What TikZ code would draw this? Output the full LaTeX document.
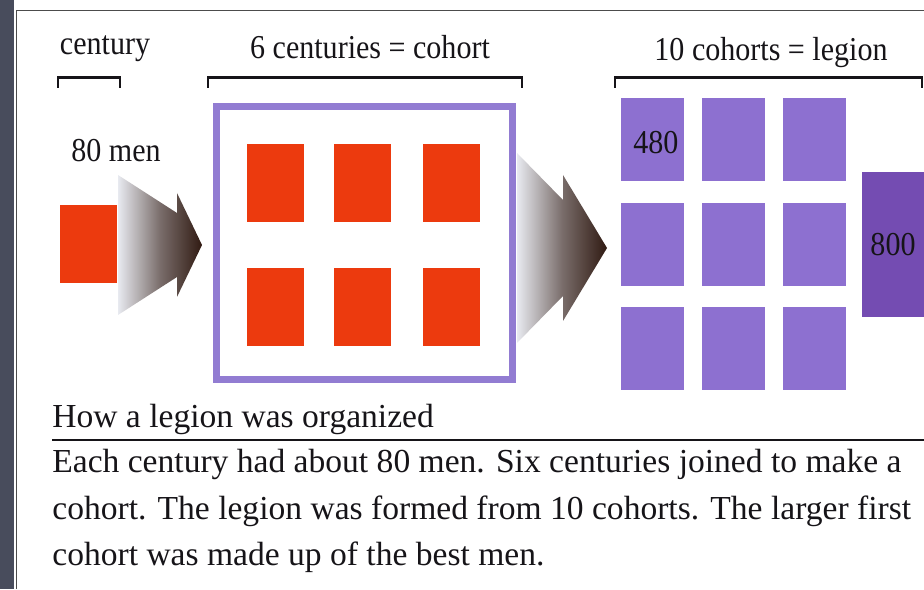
\documentclass[tikz,border=0pt]{standalone}
\usepackage{fontspec}
\setmainfont{Liberation Serif}
\newfontfamily\labelfont[FakeStretch=0.9]{Liberation Serif}
\usepackage{xcolor}
\definecolor{legred}{RGB}{236,58,14}
\definecolor{framepurple}{RGB}{146,124,210}
\definecolor{cohortpurple}{RGB}{141,112,208}
\definecolor{firstpurple}{RGB}{116,76,178}
\definecolor{stripgray}{RGB}{72,76,92}
\definecolor{arrowlight}{RGB}{232,234,240}
\definecolor{arrowdark}{RGB}{48,26,18}
\definecolor{inkblack}{RGB}{22,20,24}
\usetikzlibrary{positioning}

\begin{document}
\begin{tikzpicture}[every node/.style={inner sep=0pt,text=inkblack},
    lbl/.style={font=\labelfont\fontsize{19}{22}\selectfont},
    body/.style={font=\fontsize{19.1}{22}\selectfont,anchor=base west},
    bracket/.style={draw=inkblack,line width=1.6pt},
    centbox/.style={fill=legred,minimum width=1.14cm,minimum height=1.56cm},
    cohbox/.style={fill=cohortpurple,minimum width=1.26cm,minimum height=1.66cm},
    arrowshade/.style={left color=arrowlight,right color=arrowdark,middle color=arrowdark!60!arrowlight}]
  \useasboundingbox (0,0) rectangle (18.48,11.78);

  %% Slide strip and page frame
  \fill[stripgray] (0,0) rectangle (0.28,11.78);
  \draw[gray!60!black,line width=0.7pt] (0.33,0) -- (0.33,11.57) -- (18.48,11.57);

  %% Headings and brackets
  \node[lbl,anchor=base] (lcent) at (2.10,10.68) {century};
  \node[lbl,anchor=base] (lcoh) at (7.40,10.60) {6 centuries = cohort};
  \node[lbl,anchor=base] (lleg) at (15.42,10.56) {10 cohorts = legion};
  \foreach \a/\b in {1.16/2.40, 4.16/10.44, 12.30/18.44}{
    \draw[bracket] (\a,10.02) -- (\a,10.23) -- (\b,10.23) -- (\b,10.02);
  }

  %% One century
  \node[lbl,anchor=base] (men) at (2.32,8.54) {80 men};
  \node[centbox] (cent) at (1.77,6.90) {};
  \shade[arrowshade] (2.36,6.88+1.40) -- (3.54,6.88+0.64) -- (3.54,6.88+1.04)
        -- (4.04,6.88) -- (3.54,6.88-1.04) -- (3.54,6.88-0.64)
        -- (2.36,6.88-1.40) -- cycle;

  %% Cohort of six centuries
  \node[draw=framepurple,line width=4pt,minimum width=5.92cm,minimum height=5.46cm]
        (cohort) at (7.29,6.92) {};
  \foreach \x/\y/\n in {5.50/8.11/1, 7.24/8.11/2, 9.02/8.11/3,
                        5.50/5.64/4, 7.24/5.64/5, 9.02/5.64/6}{
    \node[centbox] (c\n) at (\x,\y) {};
  }
  \shade[arrowshade] (10.34,6.82+1.90) -- (11.26,6.82+0.96) -- (11.26,6.82+1.46)
        -- (12.14,6.82) -- (11.26,6.82-1.46) -- (11.26,6.82-0.96)
        -- (10.34,6.82-1.90) -- cycle;

  %% Legion of ten cohorts
  \foreach \x/\c in {13.05/a, 14.66/b, 16.28/c}{
    \foreach \y/\r in {8.98/1, 6.89/2, 4.80/3}{
      \node[cohbox] (\c\r) at (\x,\y) {};
    }
  }
  \node[lbl,anchor=west] (n480) at (12.66,8.92) {480};
  \node[fill=firstpurple,minimum width=1.24cm,minimum height=2.90cm,lbl]
        (first) at (17.86,6.89) {800};

  %% Caption
  \node[body] (title) at (1.04,3.22) {How a legion was organized};
  \draw[inkblack,line width=1.1pt] (1.04,2.98) -- (18.48,2.98);
  \node[body] (line1) at (1.04,2.32)
        {Each century had about 80 men. Six centuries joined to make a};
  \node[body] (line2) at (1.04,1.38)
        {cohort. The legion was formed from 10 cohorts. The larger first};
  \node[body] (line3) at (1.04,0.46) {cohort was made up of the best men.};
\end{tikzpicture}
\end{document}
